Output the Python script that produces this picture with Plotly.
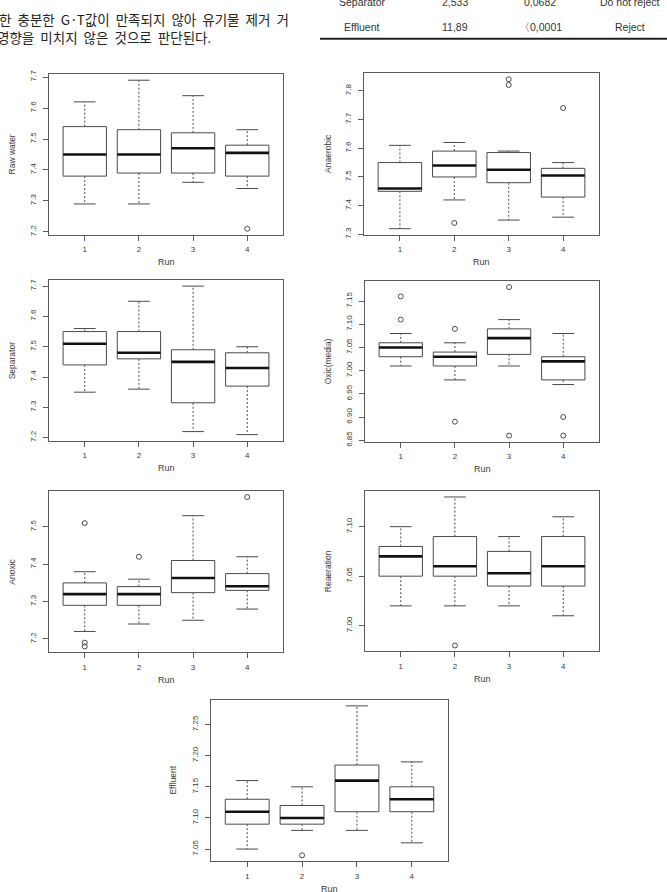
import plotly.graph_objects as go

RUNS = [1, 2, 3, 4]
RUN_LABELS = ["1", "2", "3", "4"]

raw_hi = [7.62, 7.69, 7.64, 7.53]
raw_q3 = [7.54, 7.53, 7.52, 7.48]
raw_med = [7.45, 7.45, 7.47, 7.455]
raw_q1 = [7.38, 7.39, 7.39, 7.38]
raw_lo = [7.29, 7.29, 7.36, 7.34]
raw_out = [[], [], [], [7.21]]

ana_hi = [7.61, 7.62, 7.59, 7.55]
ana_q3 = [7.55, 7.59, 7.585, 7.53]
ana_med = [7.46, 7.54, 7.525, 7.505]
ana_q1 = [7.45, 7.50, 7.48, 7.43]
ana_lo = [7.32, 7.42, 7.35, 7.36]
ana_out = [[], [7.34], [7.82, 7.84], [7.74]]

sep_hi = [7.56, 7.65, 7.70, 7.50]
sep_q3 = [7.55, 7.55, 7.49, 7.48]
sep_med = [7.51, 7.48, 7.45, 7.43]
sep_q1 = [7.44, 7.46, 7.315, 7.37]
sep_lo = [7.35, 7.36, 7.22, 7.21]
sep_out = [[], [], [], []]

oxic_hi = [7.08, 7.06, 7.11, 7.08]
oxic_q3 = [7.06, 7.04, 7.09, 7.03]
oxic_med = [7.05, 7.03, 7.07, 7.02]
oxic_q1 = [7.03, 7.01, 7.035, 6.98]
oxic_lo = [7.01, 6.98, 7.01, 6.97]
oxic_out = [[7.11, 7.16], [7.09, 6.89], [7.18, 6.86], [6.90, 6.86]]

anox_hi = [7.38, 7.36, 7.53, 7.42]
anox_q3 = [7.35, 7.34, 7.41, 7.375]
anox_med = [7.32, 7.32, 7.363, 7.341]
anox_q1 = [7.29, 7.29, 7.324, 7.33]
anox_lo = [7.22, 7.24, 7.25, 7.28]
anox_out = [[7.51, 7.19, 7.18], [7.42], [], [7.58]]

rea_hi = [7.10, 7.13, 7.09, 7.11]
rea_q3 = [7.08, 7.09, 7.075, 7.09]
rea_med = [7.07, 7.06, 7.053, 7.06]
rea_q1 = [7.05, 7.05, 7.04, 7.04]
rea_lo = [7.02, 7.02, 7.02, 7.01]
rea_out = [[], [6.98], [], []]

eff_hi = [7.16, 7.15, 7.28, 7.19]
eff_q3 = [7.13, 7.12, 7.185, 7.15]
eff_med = [7.11, 7.10, 7.16, 7.13]
eff_q1 = [7.09, 7.09, 7.11, 7.11]
eff_lo = [7.05, 7.08, 7.08, 7.06]
eff_out = [[], [7.04], [], []]

TEXT_LINE_2 = "한 충분한 G·T값이 만족되지 않아 유기물 제거 거"
TEXT_LINE_3 = "영향을 미치지 않은 것으로 판단된다."
TABLE_ROWS = [
    ["Separator", "2,533", "0,0682", "Do not reject"],
    ["Effluent", "11,89", "〈0,0001", "Reject"],
]

W, H = 667, 892
BOX_COL = "#4a4a4a"
FRAME_COL = "#5a5a5a"
TXT_COL = "#3a3a3a"
FONT = "Liberation Sans, Arial, sans-serif"

# name, stats, pixel frame (left, right, top, bottom), dtick, format, y-title x
panels = [
    ("Raw water", raw_hi, raw_q3, raw_med, raw_q1, raw_lo, raw_out, (49, 283, 71, 233), 0.1, ".1f", 12),
    ("Anaerobic", ana_hi, ana_q3, ana_med, ana_q1, ana_lo, ana_out, (364, 599, 70, 233), 0.1, ".1f", 328),
    ("Separator", sep_hi, sep_q3, sep_med, sep_q1, sep_lo, sep_out, (49, 283, 279, 441), 0.1, ".1f", 12),
    ("Oxic(media)", oxic_hi, oxic_q3, oxic_med, oxic_q1, oxic_lo, oxic_out, (365, 599, 280, 442), 0.05, ".2f", 328),
    ("Anoxic", anox_hi, anox_q3, anox_med, anox_q1, anox_lo, anox_out, (49, 283, 492, 655), 0.1, ".1f", 12),
    ("Reaeration", rea_hi, rea_q3, rea_med, rea_q1, rea_lo, rea_out, (365, 599, 492, 654), 0.05, ".2f", 328),
    ("Effluent", eff_hi, eff_q3, eff_med, eff_q1, eff_lo, eff_out, (211, 448, 703, 866), 0.05, ".2f", 173),
]

fig = go.Figure()
annotations = []
layout = {}

HALF = 0.4
CAP = 0.2

for k, (name, hi, q3, med, q1, lo, out, frame, dtick, fmt, tx) in enumerate(panels, start=1):
    sfx = "" if k == 1 else str(k)
    xref, yref = "x" + sfx, "y" + sfx
    L, R, T, B = frame

    bx, by, mx, my, wx, wy, cx, cy, ox, oy = [], [], [], [], [], [], [], [], [], []
    for i, r in enumerate(RUNS):
        bx += [r - HALF, r + HALF, r + HALF, r - HALF, r - HALF, None]
        by += [q1[i], q1[i], q3[i], q3[i], q1[i], None]
        mx += [r - HALF, r + HALF, None]
        my += [med[i], med[i], None]
        wx += [r, r, None, r, r, None]
        wy += [q3[i], hi[i], None, q1[i], lo[i], None]
        cx += [r - CAP, r + CAP, None, r - CAP, r + CAP, None]
        cy += [hi[i], hi[i], None, lo[i], lo[i], None]
        for v in out[i]:
            ox.append(r)
            oy.append(v)

    common = dict(xaxis=xref, yaxis=yref, showlegend=False, hoverinfo="skip")
    fig.add_trace(go.Scatter(x=wx, y=wy, mode="lines",
                             line=dict(color=BOX_COL, width=1, dash="2px,2px"), **common))
    fig.add_trace(go.Scatter(x=cx, y=cy, mode="lines",
                             line=dict(color=BOX_COL, width=1), **common))
    fig.add_trace(go.Scatter(x=bx, y=by, mode="lines", fill="toself", fillcolor="white",
                             line=dict(color=BOX_COL, width=1), **common))
    fig.add_trace(go.Scatter(x=mx, y=my, mode="lines",
                             line=dict(color="#111111", width=2.6), **common))
    if ox:
        fig.add_trace(go.Scatter(x=ox, y=oy, mode="markers",
                                 marker=dict(symbol="circle-open", size=5,
                                             color=BOX_COL, line=dict(width=1)), **common))

    all_vals = [v for v in hi + lo] + [v for o in out for v in o]
    vmin, vmax = min(all_vals), max(all_vals)
    pad = (vmax - vmin) * 0.04

    axis_common = dict(showline=True, linecolor=FRAME_COL, linewidth=1, mirror=True,
                       showgrid=False, zeroline=False, ticks="outside", ticklen=5,
                       tickcolor=FRAME_COL, tickwidth=1,
                       tickfont=dict(family=FONT, size=8, color=TXT_COL))
    layout["xaxis" + sfx] = dict(domain=[L / W, R / W], anchor=yref, range=[0.34, 4.66],
                                 tickvals=RUNS, ticktext=RUN_LABELS, ticklabelstandoff=2,
                                 **axis_common)
    layout["yaxis" + sfx] = dict(domain=[1 - B / H, 1 - T / H], anchor=xref,
                                 range=[vmin - pad, vmax + pad], dtick=dtick, tick0=7.0,
                                 tickformat=fmt, tickangle=-90, ticklabelstandoff=4,
                                 **axis_common)

    annotations.append(dict(text=name, x=tx / W, y=1 - (T + B) / 2 / H, xref="paper", yref="paper",
                            textangle=-90, showarrow=False, xanchor="center", yanchor="middle",
                            font=dict(family=FONT, size=8.5, color=TXT_COL)))
    annotations.append(dict(text="Run", x=(L + R) / 2 / W, y=1 - (B + 28) / H, xref="paper", yref="paper",
                            showarrow=False, xanchor="center", yanchor="middle",
                            font=dict(family=FONT, size=9, color=TXT_COL)))

# Korean body text (page fragment), justified in the source, so word gaps are widened
KFONT = "Noto Sans CJK KR"
NB = "\u00a0"
annotations.append(dict(text=TEXT_LINE_2.replace(" ", NB * 2), x=-3 / W, y=1 - 15 / H,
                        xref="paper", yref="paper",
                        showarrow=False, xanchor="left", yanchor="middle",
                        font=dict(family=KFONT, size=13.5, color="#222222")))
annotations.append(dict(text=TEXT_LINE_3.replace(" ", NB * 2), x=-5 / W, y=1 - 33 / H,
                        xref="paper", yref="paper",
                        showarrow=False, xanchor="left", yanchor="middle",
                        font=dict(family=KFONT, size=13.5, color="#222222")))

# Table fragment
col_x = [362, 455, 540, 630]
row_y = [-2, 23]
for row, yy in zip(TABLE_ROWS, row_y):
    for cell, xx in zip(row, col_x):
        annotations.append(dict(text=cell, x=xx / W, y=1 - yy / H, xref="paper", yref="paper",
                                showarrow=False, xanchor="center", yanchor="middle",
                                font=dict(family="Liberation Sans Narrow, Liberation Sans, sans-serif",
                                          size=10.5, color="#333333")))

shapes = [dict(type="line", xref="paper", yref="paper", x0=320 / W, x1=1.0,
               y0=1 - 35 / H, y1=1 - 35 / H, line=dict(color="#222222", width=2))]

fig.update_layout(width=W, height=H, margin=dict(l=0, r=0, t=0, b=0),
                  paper_bgcolor="white", plot_bgcolor="white",
                  annotations=annotations, shapes=shapes, **layout)

fig.write_html("out.html")
